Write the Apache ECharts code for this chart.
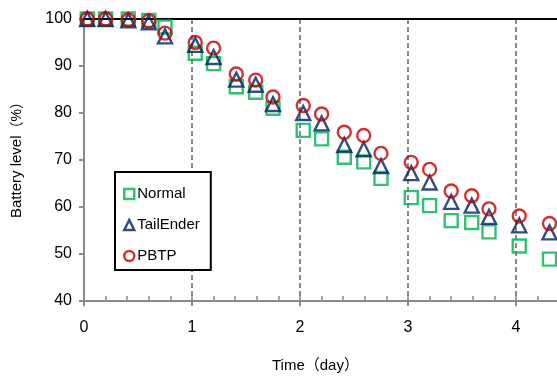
<!DOCTYPE html>
<html>
<head>
<meta charset="utf-8">
<script src="https://cdn.jsdelivr.net/npm/echarts@6/dist/echarts.min.js"></script>
<style>
html,body{margin:0;padding:0;background:#fff;}
#chart{width:557px;height:376px;}
</style>
</head>
<body>
<div id="chart"></div>
<script>
// Data
const times = [0.03, 0.2, 0.41, 0.6, 0.75, 1.03, 1.2, 1.41, 1.59, 1.75, 2.03, 2.2, 2.41, 2.59, 2.75, 3.03, 3.2, 3.4, 3.59, 3.75, 4.03, 4.31];
const normal = [100, 100, 100, 99.7, 98.3, 92.7, 90.5, 85.6, 84.4, 81.0, 76.3, 74.5, 70.6, 69.6, 66.1, 62.0, 60.3, 57.1, 56.7, 54.7, 51.7, 48.9];
const tailEnder = [100, 100, 99.7, 99.3, 96.3, 94.5, 91.9, 87.1, 86.0, 81.9, 80.0, 77.8, 73.2, 72.3, 68.7, 67.2, 65.2, 61.1, 60.3, 57.9, 56.1, 54.6];
const pbtp = [100, 100, 99.8, 99.6, 97.0, 95.0, 93.8, 88.3, 87.0, 83.4, 81.6, 79.8, 75.9, 75.2, 71.4, 69.5, 68.0, 63.4, 62.4, 59.6, 58.1, 56.5];
const seriesNames = ['Normal', 'TailEnder', 'PBTP'];
const xTitle = 'Time（day）';
const yTitle = 'Battery level';
const yUnit = '（%）';

const FONT = "'Liberation Sans','Noto Sans CJK JP',sans-serif";
const GRAY = '#8a8a8a';

function pairs(vals) { return times.map((t, i) => [t, vals[i]]); }

const chart = echarts.init(document.getElementById('chart'), null, {renderer: 'canvas'});
chart.setOption({
  animation: false,
  backgroundColor: '#fff',
  textStyle: {fontFamily: FONT},
  grid: {left: 84, top: 19, width: 540, height: 282, containLabel: false, outerBoundsMode: 'none'},
  xAxis: [
    {
      type: 'value', min: 0, max: 5, interval: 1, position: 'bottom',
      axisLine: {show: true, lineStyle: {color: GRAY, width: 2}},
      axisTick: {show: true, inside: false, length: 5, lineStyle: {color: GRAY, width: 2}},
      axisLabel: {show: true, margin: 19, fontSize: 16, color: '#000', fontFamily: FONT},
      splitLine: {show: true, lineStyle: {color: GRAY, width: 2, type: [5, 3]}}
    },
    {
      type: 'value', min: 0, max: 5, interval: 0.2, position: 'bottom',
      axisLine: {show: false},
      axisTick: {show: true, inside: true, length: 5, lineStyle: {color: GRAY, width: 1.5}},
      axisLabel: {show: false},
      splitLine: {show: false}
    },
    {
      type: 'value', min: 0, max: 5, interval: 1, position: 'top',
      axisLine: {show: true, lineStyle: {color: '#000', width: 2}},
      axisTick: {show: false},
      axisLabel: {show: false},
      splitLine: {show: false}
    }
  ],
  yAxis: {
    type: 'value', min: 40, max: 100, interval: 10,
    axisLine: {show: true, lineStyle: {color: GRAY, width: 2}},
    axisTick: {show: true, inside: false, length: 5, lineStyle: {color: GRAY, width: 2}},
    axisLabel: {margin: 12, fontSize: 16, color: '#000', fontFamily: FONT},
    splitLine: {show: false}
  },
  legend: {
    orient: 'vertical',
    left: 115, top: 172,
    padding: [14, 11, 6, 8],
    itemWidth: 10, itemHeight: 10, itemGap: 15,
    backgroundColor: '#fff',
    borderColor: '#000', borderWidth: 2,
    textStyle: {fontSize: 15, color: '#000', lineHeight: 16, padding: [0, 0, 0, -2], fontFamily: FONT},
    itemStyle: {borderWidth: 2.5},
    data: seriesNames
  },
  graphic: [
    {
      type: 'text', x: 272, y: 366,
      style: {text: xTitle, font: '15px ' + FONT, fill: '#000', align: 'left', verticalAlign: 'middle'}
    },
    {
      type: 'text', x: 17, y: 218, rotation: Math.PI / 2,
      style: {
        text: '{a|' + yTitle + '}{b|' + yUnit + '}',
        align: 'left', verticalAlign: 'middle',
        rich: {
          a: {font: '15px ' + FONT, fill: '#000'},
          b: {font: '14px ' + FONT, fill: '#000'}
        }
      }
    }
  ],
  series: [
    {
      name: seriesNames[0], type: 'scatter', symbol: 'rect', symbolSize: 13,
      itemStyle: {color: 'rgba(255,255,255,0)', borderColor: '#00b050', borderWidth: 2.4},
      data: pairs(normal), z: 3
    },
    {
      name: seriesNames[1], type: 'scatter', symbol: 'triangle', symbolSize: [14, 14],
      itemStyle: {color: 'rgba(255,255,255,0)', borderColor: '#002060', borderWidth: 2.4},
      data: pairs(tailEnder), z: 4
    },
    {
      name: seriesNames[2], type: 'scatter', symbol: 'circle', symbolSize: 13,
      itemStyle: {color: 'rgba(255,255,255,0)', borderColor: '#c00000', borderWidth: 2.4},
      data: pairs(pbtp), z: 5
    }
  ]
});
</script>
</body>
</html>
